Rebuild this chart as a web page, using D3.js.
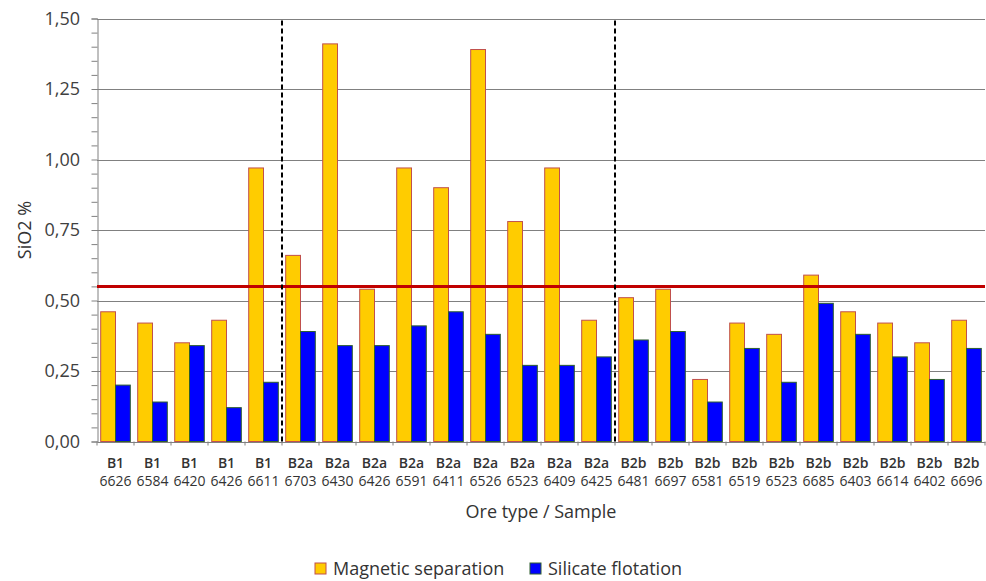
<!DOCTYPE html>
<html>
<head>
<meta charset="utf-8">
<script src="https://cdn.jsdelivr.net/npm/d3@7"></script>
<style>
  html, body { margin: 0; padding: 0; background: #fff; }
  svg { display: block; font-family: "Open Sans", sans-serif; }
</style>
</head>
<body>
<svg id="chart" width="986" height="581"></svg>
<script>
const oreTypes = ["B1","B1","B1","B1","B1",
  "B2a","B2a","B2a","B2a","B2a","B2a","B2a","B2a","B2a",
  "B2b","B2b","B2b","B2b","B2b","B2b","B2b","B2b","B2b","B2b"];
const samples = ["6626","6584","6420","6426","6611",
  "6703","6430","6426","6591","6411","6526","6523","6409","6425",
  "6481","6697","6581","6519","6523","6685","6403","6614","6402","6696"];
const magneticSeparation = [0.46,0.42,0.35,0.43,0.97,
  0.66,1.41,0.54,0.97,0.90,1.39,0.78,0.97,0.43,
  0.51,0.54,0.22,0.42,0.38,0.59,0.46,0.42,0.35,0.43];
const silicateFlotation = [0.20,0.14,0.34,0.12,0.21,
  0.39,0.34,0.34,0.41,0.46,0.38,0.27,0.27,0.30,
  0.36,0.39,0.14,0.33,0.21,0.49,0.38,0.30,0.22,0.33];
const seriesNames = ["Magnetic separation","Silicate flotation"];
const yTicks = [0,0.25,0.5,0.75,1.0,1.25,1.5];
const limitValue = 0.55;
const groupBreaks = [5,14]; // index where a new ore type begins

const svg = d3.select("#chart");
const margin = {left: 97, right: 1, top: 18.5, bottom: 139.5};
const W = 986, H = 581;
const x0 = margin.left, x1 = W - margin.right;
const yTop = margin.top, yBot = H - margin.bottom;

const idx = d3.range(samples.length);
const x = d3.scaleBand().domain(idx).range([x0, x1]).paddingInner(0).paddingOuter(0);
const xs = d3.scaleBand().domain([0,1]).range([0, x.bandwidth()]).paddingInner(0).paddingOuter(0.25);
const y = d3.scaleLinear().domain([0, 1.5]).range([yBot, yTop]);

const fmt = v => d3.format(".2f")(v).replace(".", ",");

// gridlines
svg.append("g").selectAll("line").data(yTicks.filter(d => d > 0)).join("line")
  .attr("x1", x0).attr("x2", x1)
  .attr("y1", d => Math.round(y(d)) + 0.5).attr("y2", d => Math.round(y(d)) + 0.5)
  .attr("stroke", "#808080").attr("stroke-width", 1);

// bars
const colors = ["#FFCC00", "#0000FF"];
const strokes = ["#C0504D", "#2E5E2E"];
const seriesData = [magneticSeparation, silicateFlotation];
seriesData.forEach((vals, s) => {
  svg.append("g").selectAll("rect").data(idx).join("rect")
    .attr("x", i => x(i) + xs(s))
    .attr("width", xs.bandwidth())
    .attr("y", i => y(vals[i]))
    .attr("height", i => y(0) - y(vals[i]))
    .attr("fill", colors[s])
    .attr("stroke", strokes[s]).attr("stroke-width", 1);
});

// y axis
const yAxis = d3.axisLeft(y).tickValues(d3.range(0, 1.5001, 0.05)).tickSize(6).tickFormat("");
const gy = svg.append("g").attr("transform", `translate(${x0 + 0.5},0)`).call(yAxis);
gy.select(".domain").attr("stroke", "#808080");
gy.selectAll(".tick line").attr("stroke", "#808080");
svg.append("g").selectAll("text").data(yTicks).join("text")
  .attr("x", 80).attr("y", d => y(d)).attr("dy", "0.36em")
  .attr("text-anchor", "end").attr("font-size", 18).attr("fill", "#404040")
  .text(fmt);

// x axis line and ticks
const xAxis = d3.axisBottom(x).tickSize(0).tickFormat("");
const gx = svg.append("g").attr("transform", `translate(0,${yBot + 0.5})`).call(xAxis);
gx.select(".domain").attr("stroke", "#808080");
svg.append("g").selectAll("line").data(d3.range(samples.length + 1)).join("line")
  .attr("x1", i => x0 + i * x.step()).attr("x2", i => x0 + i * x.step())
  .attr("y1", yBot).attr("y2", yBot + 4)
  .attr("stroke", "#808080");

// x labels
const lab = svg.append("g").selectAll("text").data(idx).join("text")
  .attr("text-anchor", "middle").attr("font-size", 14).attr("fill", "#333");
lab.append("tspan").attr("x", i => x(i) + x.bandwidth() / 2).attr("y", 468)
  .attr("font-weight", 600).text(i => oreTypes[i]);
lab.append("tspan").attr("x", i => x(i) + x.bandwidth() / 2).attr("y", 486)
  .text(i => samples[i]);

// red limit line
svg.append("line").attr("x1", x0).attr("x2", x1)
  .attr("y1", y(limitValue)).attr("y2", y(limitValue))
  .attr("stroke", "#C00000").attr("stroke-width", 3);

// dashed group separators
svg.append("g").selectAll("line").data(groupBreaks).join("line")
  .attr("x1", d => x(d)).attr("x2", d => x(d))
  .attr("y1", yTop + 2).attr("y2", yBot + 3)
  .attr("stroke", "#000").attr("stroke-width", 2).attr("stroke-dasharray", "5,3");

// axis titles
svg.append("text").attr("x", (x0 + x1) / 2).attr("y", 518)
  .attr("text-anchor", "middle").attr("font-size", 18).attr("fill", "#333")
  .text("Ore type / Sample");
svg.append("text").attr("transform", `translate(31,${(yTop + yBot) / 2}) rotate(-90)`)
  .attr("text-anchor", "middle").attr("font-size", 18).attr("fill", "#333")
  .text("SiO2 %");

// legend
const legX = [315, 530];
const leg = svg.append("g").selectAll("g").data(seriesNames).join("g")
  .attr("transform", (d, i) => `translate(${legX[i]},0)`);
leg.append("rect").attr("x", 0).attr("y", 563).attr("width", 11).attr("height", 11)
  .attr("fill", (d, i) => colors[i]).attr("stroke", (d, i) => strokes[i]);
leg.append("text").attr("x", 18).attr("y", 575).attr("font-size", 18).attr("fill", "#333")
  .text(d => d);
</script>
</body>
</html>
